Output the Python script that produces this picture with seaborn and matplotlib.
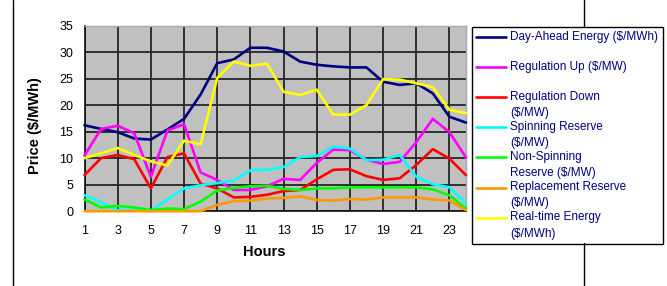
import matplotlib
matplotlib.use("Agg")
import matplotlib.pyplot as plt
import numpy as np
import pandas as pd
import seaborn as sns
from matplotlib.lines import Line2D

# ---------------- data ----------------
hours = list(range(1, 25))
day_ahead = [16.2, 15.5, 14.9, 13.7, 13.5, 15.4, 17.4, 22.0, 27.9, 28.6, 30.8, 30.8,
             30.1, 28.2, 27.6, 27.3, 27.1, 27.1, 24.4, 23.8, 24.1, 22.2, 17.8, 16.7]
reg_up = [10.5, 15.5, 16.1, 14.7, 6.5, 15.2, 16.4, 7.3, 5.9, 4.0, 4.0, 4.7,
          6.1, 5.9, 9.1, 11.6, 11.5, 9.7, 8.9, 9.3, 13.0, 17.4, 14.9, 10.1]
reg_down = [6.8, 10.0, 10.6, 9.8, 4.3, 10.2, 10.9, 5.2, 4.3, 2.6, 2.7, 3.1,
            3.8, 4.0, 6.0, 7.8, 7.9, 6.6, 5.9, 6.2, 8.7, 11.7, 9.9, 6.8]
spinning = [3.0, 1.7, 0.2, 0.1, 0.1, 2.2, 4.3, 4.9, 5.3, 5.8, 7.7, 7.8,
            8.3, 10.2, 10.4, 12.2, 11.8, 9.6, 9.7, 10.6, 6.5, 5.1, 4.5, 1.5]
non_spin = [2.2, 0.7, 1.0, 0.7, 0.2, 0.5, 0.4, 1.8, 3.9, 4.4, 4.7, 4.8,
            4.2, 4.0, 4.3, 4.3, 4.5, 4.5, 4.5, 4.5, 4.5, 4.1, 3.0, 0.5]
replacement = [0.0, 0.0, 0.0, 0.0, 0.0, 0.0, 0.0, 0.0, 1.2, 1.9, 2.0, 2.4,
               2.5, 2.8, 2.1, 2.0, 2.3, 2.2, 2.6, 2.6, 2.6, 2.2, 2.0, 0.2]
real_time = [10.0, 10.9, 11.9, 10.6, 9.4, 8.6, 13.3, 12.6, 25.1, 28.2, 27.4, 27.8,
             22.5, 21.9, 22.9, 18.2, 18.2, 20.0, 24.9, 24.8, 24.1, 23.4, 19.1, 18.5]

series_names = ["Day-Ahead Energy ($/MWh)", "Regulation Up ($/MW)",
                "Regulation Down ($/MW)", "Spinning Reserve ($/MW)",
                "Non-Spinning Reserve ($/MW)", "Replacement Reserve ($/MW)",
                "Real-time Energy ($/MWh)"]
legend_labels = ["Day-Ahead Energy ($/MWh)\n ", "Regulation Up ($/MW)\n ",
                 "Regulation Down\n($/MW)", "Spinning Reserve\n($/MW)",
                 "Non-Spinning\nReserve ($/MW)", "Replacement Reserve\n($/MW)",
                 "Real-time Energy\n($/MWh)"]
series_colors = ["#000080", "#FF00FF", "#FF0000", "#00FFFF", "#00FF00", "#FF9900", "#FFFF00"]
x_ticks = list(range(1, 24, 2))
y_ticks = list(range(0, 36, 5))

values = [day_ahead, reg_up, reg_down, spinning, non_spin, replacement, real_time]
df = pd.DataFrame({name: v for name, v in zip(series_names, values)})
df["Hour"] = hours
long_df = df.melt(id_vars="Hour", var_name="Series", value_name="Price")

# ---------------- style ----------------
sns.set_theme(style="white")
plt.rcParams["font.family"] = ["Liberation Sans", "DejaVu Sans"]

W, H = 667, 286
fig = plt.figure(figsize=(W / 100, H / 100), dpi=100)
fig.patch.set_facecolor("white")
left, right, top, bottom = 84.5, 466.0, 25.5, 211.2
ax = fig.add_axes([left / W, 1 - bottom / H, (right - left) / W, (bottom - top) / H])

sns.lineplot(data=long_df, x="Hour", y="Price", hue="Series", hue_order=series_names,
             palette=dict(zip(series_names, series_colors)), linewidth=1.9,
             ax=ax, legend=False, clip_on=False, zorder=3)

ax.set_facecolor("#C0C0C0")
ax.set_xlim(1, 24)
ax.set_ylim(0, 35)
ax.set_xticks(x_ticks)
ax.set_yticks(y_ticks)
ax.grid(True, color="#262626", linewidth=1.3)
ax.set_axisbelow(True)
for s in ["left", "bottom"]:
    ax.spines[s].set_color("#111111")
    ax.spines[s].set_linewidth(1.2)
for s in ["top", "right"]:
    ax.spines[s].set_color("#A8A8B8")
    ax.spines[s].set_linewidth(1.0)

ax.tick_params(axis="both", direction="out", length=3, width=0.8, color="#333333",
               labelsize=9, labelcolor="black")
ax.tick_params(axis="y", pad=5)
ax.tick_params(axis="x", pad=7)

ax.set_xlabel("Hours", fontsize=10.5, fontweight="bold", color="black")
ax.set_ylabel("Price ($/MWh)", fontsize=10.5, fontweight="bold", color="black")
ax.xaxis.set_label_coords((264 - left) / (right - left), -0.18)
ax.yaxis.set_label_coords((42 - left) / (right - left), 0.46)

# ---------------- legend ----------------
handles = [Line2D([], [], color=c, linewidth=1.9) for c in series_colors]
leg_fs = 8.5
leg = ax.legend(handles, legend_labels, loc="upper left",
                bbox_to_anchor=(472 / W, 1 - 27 / H), bbox_transform=fig.transFigure,
                frameon=True, fancybox=False, edgecolor="black", facecolor="white",
                framealpha=1, fontsize=leg_fs, handlelength=2.5, handletextpad=0.4,
                labelspacing=0.17, borderpad=0.35, borderaxespad=0)
leg.get_frame().set_linewidth(1.0)
for t in leg.get_texts():
    t.set_color("#000080")
    t.set_linespacing(1.45)

# align each handle with the first line of its label
fig.canvas.draw()
renderer = fig.canvas.get_renderer()
fs_px = leg_fs * fig.dpi / 72
for t, ln in zip(leg.get_texts(), leg.legend_handles):
    tb = t.get_window_extent(renderer)
    lb = ln.get_window_extent(renderer)
    target = tb.y1 - 0.52 * fs_px
    cur = 0.5 * (lb.y0 + lb.y1)
    ln.set_ydata(np.asarray(ln.get_ydata()) + (target - cur) * 72 / fig.dpi)

# frame lines of the surrounding slide
fig.add_artist(Line2D([13.5 / W, 13.5 / W], [0, 1], transform=fig.transFigure,
                      color="black", linewidth=1.0))
fig.add_artist(Line2D([583.5 / W, 583.5 / W], [1 - 27 / H, 1], transform=fig.transFigure,
                      color="black", linewidth=1.0))
fig.add_artist(Line2D([583.5 / W, 583.5 / W], [0, 1 - 243 / H], transform=fig.transFigure,
                      color="black", linewidth=1.0))

fig.savefig("out.png", dpi=100)
